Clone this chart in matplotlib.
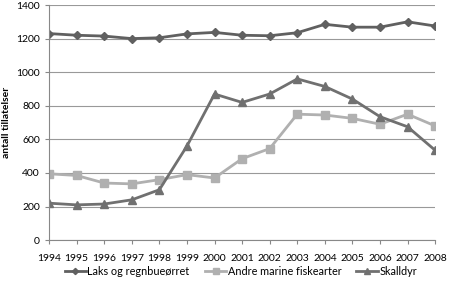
import matplotlib
matplotlib.use("Agg")
import matplotlib.pyplot as plt

years = list(range(1994, 2009))
laks = [1230, 1220, 1215, 1200, 1205, 1228, 1237, 1220, 1217, 1235, 1285, 1268, 1268, 1300, 1275]
andre = [395, 385, 340, 335, 360, 390, 370, 485, 545, 750, 745, 725, 690, 750, 680]
skalldyr = [220, 210, 215, 240, 300, 560, 870, 820, 870, 960, 915, 840, 735, 675, 535]
labels = ["Laks og regnbueørret", "Andre marine fiskearter", "Skalldyr"]

plt.rcParams['font.family'] = ['Lato', 'DejaVu Sans']
fig = plt.figure(figsize=(4.5, 2.95), dpi=100)
ax = fig.add_axes([0.109, 0.186, 0.858, 0.797])

ax.plot(years, laks, color='#606060', lw=2, marker='D', ms=4.5, label=labels[0])
ax.plot(years, andre, color='#b0b0b0', lw=2, marker='s', ms=6, label=labels[1])
ax.plot(years, skalldyr, color='#707070', lw=2, marker='^', ms=6, label=labels[2])

ax.set_xlim(1994, 2008)
ax.set_ylim(0, 1400)
ax.set_yticks(range(0, 1401, 200))
ax.set_xticks(years)
ax.tick_params(axis='both', labelsize=7.5, length=3, color='#888888')
ax.tick_params(axis='x', pad=7)
ax.grid(axis='y', color='#999999', lw=0.8)
ax.set_axisbelow(True)
for s in ['top', 'right']:
    ax.spines[s].set_visible(False)
for s in ['left', 'bottom']:
    ax.spines[s].set_color('#888888')
ax.set_ylabel('antall tillatelser', fontsize=7.5, fontweight='bold')

fig.legend(loc='center', bbox_to_anchor=(0.535, 0.08), ncol=3, frameon=False,
           fontsize=7.8, handlelength=2.0, columnspacing=1.4, handletextpad=0.1,
           markerscale=0.7)
fig.savefig('out.png', dpi=100)
